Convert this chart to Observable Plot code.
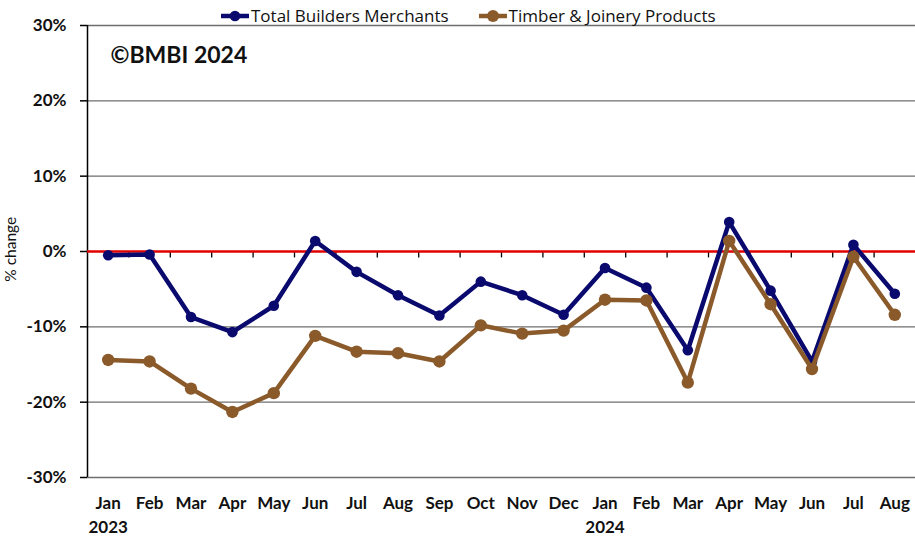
<!DOCTYPE html>
<html>
<head>
<meta charset="utf-8">
<script src="https://cdn.jsdelivr.net/npm/d3@7"></script>
<script src="https://cdn.jsdelivr.net/npm/@observablehq/plot@0.6"></script>
<style>
  html, body { margin: 0; padding: 0; background: #fff; }
  #wrap { position: relative; width: 915px; height: 537px; font-family: Lato, "Open Sans", sans-serif; }
  #legend { position: absolute; top: 4px; left: 221px; display: flex; align-items: center; font-family: "Open Sans", sans-serif; font-size: 17px; color: #111; white-space: nowrap; }
  #legend .item { display: flex; align-items: center; margin-right: 30px; }
  #legend svg { margin-right: 2px; }
</style>
</head>
<body>
<div id="wrap">
  <div id="legend"></div>
</div>
<script>
const months = ["Jan","Feb","Mar","Apr","May","Jun","Jul","Aug","Sep","Oct","Nov","Dec","Jan","Feb","Mar","Apr","May","Jun","Jul","Aug"];
const years = ["2023","","","","","","","","","","","","2024","","","","","","",""];
const seriesNames = ["Total Builders Merchants", "Timber & Joinery Products"];
const seriesColors = ["#0a0a6e", "#8b5a2b"];
const totalBM = [-0.5, -0.4, -8.7, -10.7, -7.2, 1.4, -2.7, -5.8, -8.5, -4.0, -5.8, -8.4, -2.2, -4.8, -13.1, 3.9, -5.2, -14.6, 0.9, -5.6];
const timber  = [-14.4, -14.6, -18.2, -21.3, -18.8, -11.2, -13.3, -13.5, -14.6, -9.8, -10.9, -10.5, -6.4, -6.5, -17.4, 1.4, -7.0, -15.6, -0.7, -8.4];
const yTicks = [-30, -20, -10, 0, 10, 20, 30];

const idx = months.map((d, i) => i);
const rowsBM = totalBM.map((v, i) => ({i, v}));
const rowsTJ = timber.map((v, i) => ({i, v}));
const boundaries = d3.range(1, months.length).map(i => i - 0.5);
const tickLen = 0.17;

const font = "Lato, 'Open Sans', sans-serif";

const chart = Plot.plot({
  width: 915,
  height: 537,
  marginLeft: 87,
  marginRight: 0,
  marginTop: 25,
  marginBottom: 60,
  style: {fontFamily: font, background: "#fff", overflow: "visible"},
  x: {type: "linear", domain: [-0.5, months.length - 0.5], axis: null},
  y: {domain: [-30, 30], axis: null},
  marks: [
    Plot.ruleY(yTicks.filter(d => d !== 0), {stroke: "#6e6e6e", strokeWidth: 1.4}),
    Plot.ruleX([-0.5], {y1: -30, y2: 30, stroke: "#000", strokeWidth: 1.5}),
    Plot.ruleY(yTicks, {x1: -0.5 - tickLen, x2: -0.5, stroke: "#000", strokeWidth: 1.5}),
    Plot.text(yTicks, {x: -0.5, y: d => d, text: d => d + "%", textAnchor: "end", dx: -21, fontSize: 17, fontWeight: "bold", fill: "#111"}),
    Plot.ruleX(boundaries, {y1: 0, y2: -0.85, stroke: "#000", strokeWidth: 1.3}),
    Plot.ruleY([0], {stroke: "#e00000", strokeWidth: 2.6}),
    Plot.line(rowsBM, {x: "i", y: "v", stroke: seriesColors[0], strokeWidth: 4.5}),
    Plot.dot(rowsBM, {x: "i", y: "v", fill: seriesColors[0], r: 5.3}),
    Plot.line(rowsTJ, {x: "i", y: "v", stroke: seriesColors[1], strokeWidth: 4.5}),
    Plot.dot(rowsTJ, {x: "i", y: "v", fill: seriesColors[1], r: 6.2}),
    Plot.text(idx, {x: d => d, y: -30, text: d => months[d], dy: 26, fontSize: 17, fontWeight: "bold", fill: "#111"}),
    Plot.text(idx.filter(d => years[d]), {x: d => d, y: -30, text: d => years[d], dy: 50, fontSize: 17, fontWeight: "bold", fill: "#111"}),
    Plot.text(["% change"], {x: -0.5, y: 0.3, text: d => d, rotate: -90, dx: -76, fontSize: 15.5, fill: "#111"}),
    Plot.text(["©BMBI 2024"], {frameAnchor: "top-left", text: d => d, dx: 23, dy: 21, fontSize: 23, fontWeight: "bold", fill: "#111", textAnchor: "start"})
  ]
});

const wrap = document.getElementById("wrap");
wrap.insertBefore(chart, wrap.firstChild);

const legend = document.getElementById("legend");
seriesNames.forEach((name, k) => {
  const item = document.createElement("div");
  item.className = "item";
  item.innerHTML = `<svg width="28" height="14"><line x1="0" y1="7" x2="28" y2="7" stroke="${seriesColors[k]}" stroke-width="4.5"/><circle cx="14" cy="7" r="${k ? 6 : 5.3}" fill="${seriesColors[k]}"/></svg><span>${name}</span>`;
  legend.appendChild(item);
});
</script>
</body>
</html>
